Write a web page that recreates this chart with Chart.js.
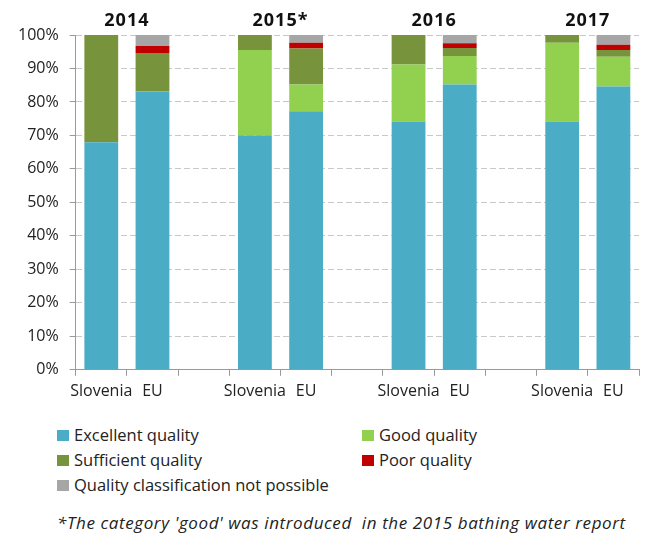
<!DOCTYPE html>
<html>
<head>
    <title>Bathing water quality</title>
    <script src="https://cdn.jsdelivr.net/npm/chart.js"></script>
    <style>
        body { margin: 0; background: #fff; font-family: "Open Sans", sans-serif; color: #222; }
        #wrap { position: relative; width: 650px; height: 533px; }
        #chartBox { position: absolute; left: 0; top: 0; width: 650px; height: 407px; }
        #legend { position: absolute; left: 57px; top: 423px; width: 590px; font-size: 16.5px; }
        .item { position: absolute; white-space: nowrap; line-height: 24px; }
        .item span { display: inline-block; width: 12px; height: 11px; margin-right: 5px; }
        #note { position: absolute; left: 57px; top: 511px; font-size: 17px; letter-spacing: 0.6px; font-style: italic; white-space: nowrap; }
    </style>
</head>
<body>
<div id="wrap">
    <div id="chartBox"><canvas id="waterChart"></canvas></div>
    <div id="legend"></div>
    <div id="note">*The category 'good' was introduced&nbsp; in the 2015 bathing water report</div>
</div>
<script>
    // categories: Slovenia / EU per year, with an empty slot between years
    const labels = ['Slovenia', 'EU', '', 'Slovenia', 'EU', '', 'Slovenia', 'EU', '', 'Slovenia', 'EU'];
    const years = ['2014', '2015*', '2016', '2017'];

    const excellent  = [68.0, 83.1, null, 70.0, 77.2, null, 74.2, 85.2, null, 74.2, 84.6];
    const good       = [0,    0,    null, 25.5, 8.0,  null, 17.0, 8.5,  null, 23.5, 8.9];
    const sufficient = [32.0, 11.5, null, 4.5,  10.8, null, 8.8,  2.4,  null, 2.3,  2.0];
    const poor       = [0,    2.1,  null, 0,    1.7,  null, 0,    1.4,  null, 0,    1.6];
    const notPossible= [0,    3.3,  null, 0,    2.3,  null, 0,    2.5,  null, 0,    2.9];

    const series = [
        { label: 'Excellent quality', data: excellent, color: '#4bacc6' },
        { label: 'Good quality', data: good, color: '#92d050' },
        { label: 'Sufficient quality', data: sufficient, color: '#77933c' },
        { label: 'Poor quality', data: poor, color: '#c00000' },
        { label: 'Quality classification not possible', data: notPossible, color: '#a6a6a6' }
    ];

    // year headings above each pair of bars
    const yearLabels = {
        id: 'yearLabels',
        afterDraw(chart) {
            const ctx = chart.ctx;
            const x = chart.scales.x;
            ctx.save();
            ctx.font = 'bold 18px "Open Sans", sans-serif';
            ctx.letterSpacing = '1px';
            ctx.fillStyle = '#111';
            ctx.textAlign = 'center';
            ctx.textBaseline = 'middle';
            years.forEach((y, i) => {
                const cx = (x.getPixelForValue(i * 3) + x.getPixelForValue(i * 3 + 1)) / 2;
                ctx.fillText(y, cx, chart.chartArea.top - 14);
            });
            ctx.restore();
        }
    };

    const ctx = document.getElementById('waterChart').getContext('2d');
    const chart = new Chart(ctx, {
        type: 'bar',
        data: {
            labels: labels,
            datasets: series.map(s => ({
                label: s.label,
                data: s.data,
                backgroundColor: s.color,
                borderWidth: 0,
                barPercentage: 0.66,
                categoryPercentage: 1
            }))
        },
        options: {
            responsive: true,
            maintainAspectRatio: false,
            animation: false,
            layout: { padding: { top: 35, right: 11, left: 7, bottom: 0 } },
            plugins: {
                legend: { display: false },
                tooltip: { enabled: false }
            },
            scales: {
                x: {
                    stacked: true,
                    grid: { offset: true, drawOnChartArea: false, tickLength: 6, color: '#999' },
                    border: { color: '#999' },
                    ticks: { color: '#222', font: { size: 16, family: 'Open Sans' }, padding: 6, autoSkip: false, maxRotation: 0 }
                },
                y: {
                    stacked: true,
                    min: 0,
                    max: 100,
                    grid: { color: '#c8c8c8', tickColor: '#999', tickLength: 6 },
                    border: { color: '#999', dash: [6, 3] },
                    ticks: {
                        stepSize: 10,
                        color: '#222',
                        font: { size: 16, family: 'Open Sans' },
                        padding: 11,
                        callback: v => v + '%'
                    }
                }
            }
        },
        plugins: [yearLabels]
    });

    // two-column legend under the chart
    const legend = document.getElementById('legend');
    series.forEach((s, i) => {
        const d = document.createElement('div');
        d.className = 'item';
        d.style.left = (i % 2 ? 305 : 0) + 'px';
        d.style.top = (Math.floor(i / 2) * 25) + 'px';
        d.innerHTML = '<span style="background:' + s.color + '"></span>' + s.label;
        legend.appendChild(d);
    });
</script>
</body>
</html>
